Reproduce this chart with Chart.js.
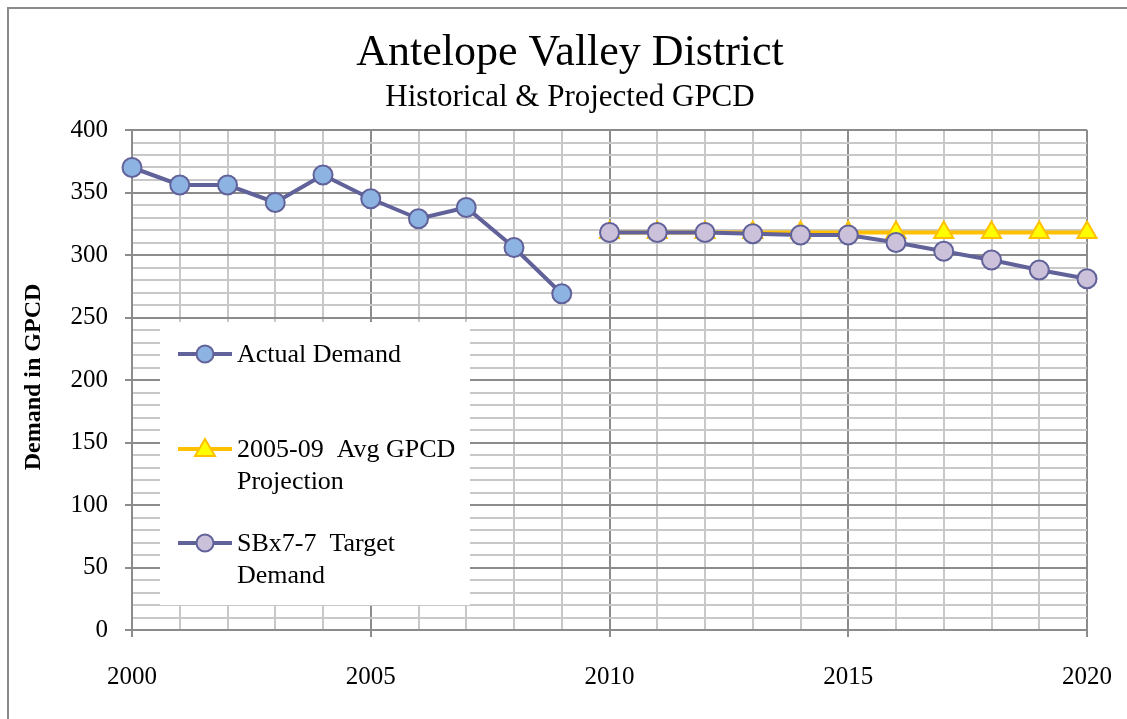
<!DOCTYPE html>
<html lang="en">
<head>
<meta charset="utf-8" />
<script src="https://cdn.jsdelivr.net/npm/chart.js@4.4.0/dist/chart.umd.min.js"></script>
<title>Antelope Valley District</title>
<style>
    body { margin: 0; background: #fff; }
    #marco { position: absolute; left: 7px; top: 7px; width: 1140px; height: 730px; border-left: 2px solid #8a8a8a; border-top: 2px solid #8a8a8a; }
    #caja { position: absolute; left: 0; top: 0; width: 1127px; height: 719px; }
</style>
</head>
<body>
<div id="marco"></div>
<div id="caja"><canvas id="grafico"></canvas></div>
<script>
var actualYears = [2000, 2001, 2002, 2003, 2004, 2005, 2006, 2007, 2008, 2009];
var actualDemand = [370, 356, 356, 342, 364, 345, 329, 338, 306, 269];
var projYears = [2010, 2011, 2012, 2013, 2014, 2015, 2016, 2017, 2018, 2019, 2020];
var avgProjection = [318, 318, 318, 318, 318, 318, 318, 318, 318, 318, 318];
var targetDemand = [318, 318, 318, 317, 316, 316, 310, 303, 296, 288, 281];
var yearLabels = [2000, 2005, 2010, 2015, 2020];
var demandLabels = [0, 50, 100, 150, 200, 250, 300, 350, 400];

var mainTitle = "Antelope Valley District";
var subTitle = "Historical & Projected GPCD";
var yTitle = "Demand in GPCD";

var serif = "'Liberation Serif', 'DejaVu Serif', serif";
var lineColor = "#62629a";
var majorGrid = "#8c8c8c";
var minorGrid = "#c8c8c8";

function pares(xs, ys) {
    return xs.map(function (x, i) { return { x: x, y: ys[i] }; });
}

// legend drawn inside the plot, on a white box
var leyenda = {
    id: "leyenda",
    beforeDatasetsDraw: function (chart) {
        var c = chart.ctx;
        c.save();
        c.fillStyle = "#fff";
        c.fillRect(160, 322, 310, 283);
        var items = [
            { y: 354, ds: chart.data.datasets[0], lines: ["Actual Demand"] },
            { y: 449, ds: chart.data.datasets[1], lines: ["2005-09  Avg GPCD", "Projection"] },
            { y: 543, ds: chart.data.datasets[2], lines: ["SBx7-7  Target", "Demand"] }
        ];
        items.forEach(function (it) {
            c.strokeStyle = it.ds.borderColor;
            c.lineWidth = 4;
            c.beginPath();
            c.moveTo(178, it.y);
            c.lineTo(232, it.y);
            c.stroke();
            c.fillStyle = it.ds.pointBackgroundColor;
            c.strokeStyle = it.ds.pointBorderColor;
            c.lineWidth = 2;
            c.beginPath();
            if (it.ds.pointStyle === "triangle") {
                c.moveTo(205, it.y - 10);
                c.lineTo(215, it.y + 7);
                c.lineTo(195, it.y + 7);
                c.closePath();
            } else {
                c.arc(205, it.y, 8.5, 0, Math.PI * 2);
            }
            c.fill();
            c.stroke();
            c.fillStyle = "#000";
            c.font = "26px " + serif;
            c.textBaseline = "middle";
            it.lines.forEach(function (t, k) {
                c.fillText(t, 237, it.y + 1 + k * 32);
            });
        });
        c.restore();
    },
    afterDraw: function (chart) {
        var c = chart.ctx;
        c.save();
        c.fillStyle = "#000";
        c.textAlign = "center";
        c.textBaseline = "middle";
        c.font = "44px " + serif;
        c.fillText(mainTitle, 570, 53);
        c.font = "31px " + serif;
        c.fillText(subTitle, 570, 98);
        c.translate(34, 377);
        c.rotate(-Math.PI / 2);
        c.font = "bold 24px " + serif;
        c.fillText(yTitle, 0, 0);
        c.restore();
    }
};

new Chart(document.getElementById("grafico").getContext("2d"), {
    type: "line",
    data: {
        datasets: [
            {
                label: "Actual Demand",
                data: pares(actualYears, actualDemand),
                borderColor: lineColor,
                borderWidth: 4,
                pointStyle: "circle",
                pointRadius: 9.5,
                pointBorderWidth: 2,
                pointBackgroundColor: "#8db3e2",
                pointBorderColor: lineColor,
                order: 2
            },
            {
                label: "2005-09 Avg GPCD Projection",
                data: pares(projYears, avgProjection),
                borderColor: "#ffc000",
                borderWidth: 4,
                pointStyle: "triangle",
                pointRadius: 11,
                pointBorderWidth: 2,
                pointBackgroundColor: "#ffff00",
                pointBorderColor: "#ffc000",
                order: 1
            },
            {
                label: "SBx7-7 Target Demand",
                data: pares(projYears, targetDemand),
                borderColor: lineColor,
                borderWidth: 4,
                pointStyle: "circle",
                pointRadius: 9.5,
                pointBorderWidth: 2,
                pointBackgroundColor: "#ccc1da",
                pointBorderColor: lineColor,
                order: 0
            }
        ]
    },
    options: {
        responsive: true,
        maintainAspectRatio: false,
        animation: false,
        events: [],
        clip: false,
        layout: { padding: { top: 130, right: 40, left: 0, bottom: 0 } },
        scales: {
            x: {
                type: "linear",
                min: 2000,
                max: 2020,
                afterFit: function (s) { s.height = 89; s.paddingLeft = 0; s.paddingRight = 0; },
                border: { color: majorGrid, width: 2 },
                grid: {
                    lineWidth: 2,
                    tickLength: 7,
                    color: function (ctx) { return ctx.tick && ctx.tick.value % 5 === 0 ? majorGrid : minorGrid; },
                    tickColor: function (ctx) { return ctx.tick && ctx.tick.value % 5 === 0 ? majorGrid : "rgba(0,0,0,0)"; }
                },
                ticks: {
                    stepSize: 1,
                    autoSkip: false,
                    maxRotation: 0,
                    padding: 25,
                    color: "#000",
                    font: { family: serif, size: 25 },
                    callback: function (v) { return yearLabels.indexOf(v) >= 0 ? String(v) : ""; }
                }
            },
            y: {
                min: 0,
                max: 400,
                afterFit: function (s) { s.width = 132; s.paddingTop = 0; s.paddingBottom = 0; },
                border: { color: majorGrid, width: 2 },
                grid: {
                    lineWidth: 2,
                    tickLength: 7,
                    color: function (ctx) { return ctx.tick && ctx.tick.value % 50 === 0 ? majorGrid : minorGrid; },
                    tickColor: function (ctx) { return ctx.tick && ctx.tick.value % 50 === 0 ? majorGrid : "rgba(0,0,0,0)"; }
                },
                ticks: {
                    stepSize: 10,
                    maxTicksLimit: 100,
                    autoSkip: false,
                    padding: 17,
                    color: "#000",
                    font: { family: serif, size: 25 },
                    callback: function (v) { return demandLabels.indexOf(v) >= 0 ? String(v) : ""; }
                }
            }
        },
        plugins: {
            legend: { display: false },
            tooltip: { enabled: false }
        }
    },
    plugins: [leyenda]
});
</script>
</body>
</html>
